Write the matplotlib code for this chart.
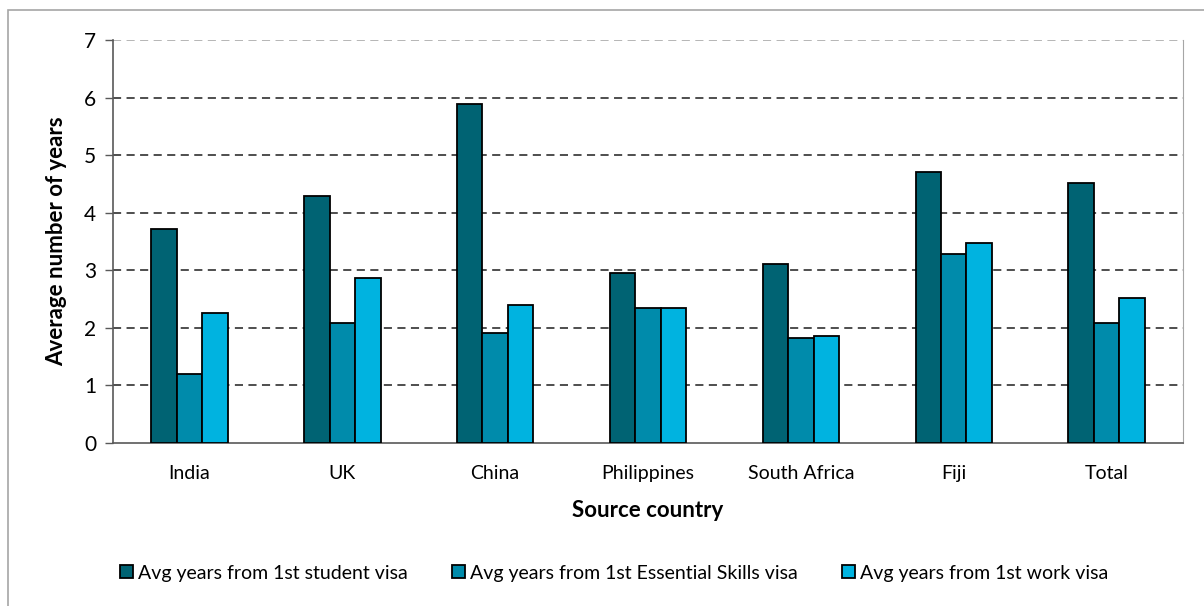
import matplotlib.pyplot as plt
import numpy as np
from matplotlib.patches import Rectangle

plt.rcParams["font.family"] = ["Lato", "DejaVu Sans"]

countries = ["India", "UK", "China", "Philippines", "South Africa", "Fiji", "Total"]
student = [3.72, 4.29, 5.89, 2.96, 3.11, 4.70, 4.51]
essential = [1.20, 2.08, 1.91, 2.35, 1.83, 3.29, 2.09]
work = [2.26, 2.87, 2.40, 2.34, 1.85, 3.48, 2.52]

series_labels = [
    "Avg years from 1st student visa",
    "Avg years from 1st Essential Skills visa",
    "Avg years from 1st work visa",
]
colors = ["#006373", "#008BAB", "#00B3E0"]

fig = plt.figure(figsize=(12.04, 6.06), dpi=100)
ax = fig.add_axes([113 / 1204, 1 - 443 / 606, (1183 - 113) / 1204, (443 - 40) / 606])

# outer chart border (top and left visible)
fig.patches.append(Rectangle((8 / 1204, -0.1), 1.2, 1 - 10 / 606 + 0.1,
                             transform=fig.transFigure, fill=False,
                             edgecolor="#a6a6a6", linewidth=1.2))

x = np.arange(len(countries))
w = 1 / 6
for i, (vals, lab, col) in enumerate(zip([student, essential, work], series_labels, colors)):
    ax.bar(x + (i - 1) * w, vals, width=w, color=col, edgecolor="black",
           linewidth=1.3, label=lab, zorder=3)

ax.set_xlim(-0.5, len(countries) - 0.5)
ax.set_ylim(0, 7)
ax.set_yticks(range(8))
for yv in range(1, 7):
    ax.axhline(yv, color="#404040", linestyle=(0, (4.5, 3)), linewidth=1.3, zorder=1)
ax.axhline(7, color="#b0b0b0", linestyle=(0, (4.5, 3)), linewidth=1.3, zorder=1)

ax.set_xticks(x)
ax.set_xticklabels(countries, fontsize=14)
ax.tick_params(axis="x", length=0, pad=16)
ax.tick_params(axis="y", labelsize=15, length=6, width=1, color="#595959", pad=6, direction="out")

ax.spines["top"].set_visible(False)
ax.spines["right"].set_color("#a6a6a6")
ax.spines["left"].set_color("#595959")
ax.spines["bottom"].set_color("#595959")
ax.spines["left"].set_linewidth(1.2)
ax.spines["bottom"].set_linewidth(1.2)

ax.set_xlabel("Source country", fontsize=16, fontweight="bold", labelpad=13)
ax.set_ylabel("Average number of years", fontsize=16, fontweight="bold", labelpad=12)

leg = fig.legend(loc="center", bbox_to_anchor=(0.51, 1 - 573 / 606), ncol=3,
                 frameon=False, fontsize=14, handlelength=0.65, handleheight=0.65,
                 handletextpad=0.25, columnspacing=2.3)

fig.savefig("out.png", dpi=100)
